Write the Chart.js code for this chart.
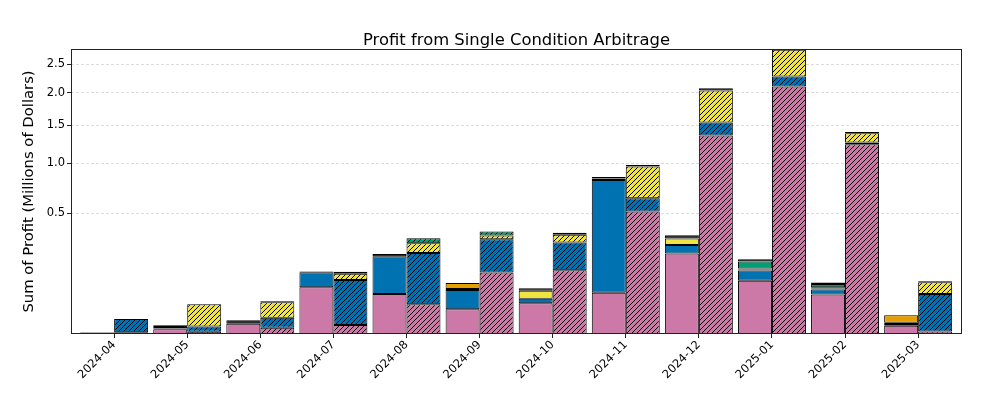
<!DOCTYPE html>
<html>
<head>
<meta charset="utf-8">
<script src="https://cdn.jsdelivr.net/npm/chart.js@4.4.1/dist/chart.umd.min.js"></script>
<style>
  html, body { margin: 0; padding: 0; background: #fff; }
</style>
</head>
<body>
<canvas id="chart" width="986" height="396"></canvas>
<script>
const months = ["2024-04", "2024-05", "2024-06", "2024-07", "2024-08", "2024-09",
  "2024-10", "2024-11", "2024-12", "2025-01", "2025-02", "2025-03"];
const yTicks = [0.5, 1.0, 1.5, 2.0, 2.5];
const yMax = 2.79;

// solid bars (left of each month tick), millions of dollars
const solidPink = [0.00005, 0.00076, 0.0036, 0.075, 0.055, 0.021, 0.0324, 0.0587, 0.222, 0.0977, 0.0537, 0.00237];
const solidBlue = [0, 0.00024, 0, 0.056, 0.1526, 0.0456, 0.0105, 0.757, 0.0505, 0.0403, 0.0144, 0.00107];
const solidYellow = [0, 0.0007, 0, 0, 0, 0.003, 0.0216, 0.014, 0.040, 0.005, 0.0031, 0.001];
const solidOrange = [0, 0, 0, 0, 0, 0.0198, 0, 0, 0, 0.0046, 0.0038, 0.0076];
const solidGreen = [0, 0, 0, 0, 0, 0, 0, 0, 0, 0.0324, 0.011, 0];
const solidBlack = [0.00006, 0.0009, 0.0029, 0.003, 0.0124, 0, 0.0073, 0.018, 0.0225, 0.012, 0.0052, 0];

// hatched bars (right of each month tick)
const hatchPink = [0.0001, 0.00018, 0.00137, 0.0028, 0.0303, 0.130, 0.1396, 0.5146, 1.353, 2.104, 1.238, 0.0002];
const hatchBlue = [0.0076, 0.00176, 0.00777, 0.0972, 0.1954, 0.1785, 0.1474, 0.118, 0.183, 0.173, 0.021, 0.0548];
const hatchYellow = [0, 0.0284, 0.0255, 0.025, 0.0573, 0.024, 0.052, 0.330, 0.500, 0.498, 0.127, 0.0369];
const hatchOrange = [0, 0, 0, 0, 0, 0, 0, 0, 0, 0, 0, 0];
const hatchGreen = [0, 0, 0, 0.0085, 0.032, 0.0275, 0, 0, 0, 0, 0, 0];
const hatchBlack = [0, 0, 0.002, 0, 0, 0, 0.014, 0.0195, 0.040, 0, 0.014, 0.0036];

const colors = {
  pink: "#CC79A7",
  blue: "#0072B2",
  yellow: "#F0E442",
  orange: "#E69F00",
  green: "#009E73",
  black: "#000000"
};

// square-root value axis, like matplotlib's function scale
class SqrtScale extends Chart.LinearScale {
  getPixelForValue(value) {
    if (value === null || value === undefined) return NaN;
    const lo = Math.sqrt(Math.max(this.min, 0));
    const hi = Math.sqrt(this.max);
    return this.getPixelForDecimal((Math.sqrt(Math.max(value, 0)) - lo) / (hi - lo));
  }
  getValueForPixel(pixel) {
    const lo = Math.sqrt(Math.max(this.min, 0));
    const hi = Math.sqrt(this.max);
    const s = lo + this.getDecimalForPixel(pixel) * (hi - lo);
    return s * s;
  }
}
SqrtScale.id = "sqrt";
SqrtScale.defaults = Chart.LinearScale.defaults;
Chart.register(SqrtScale);

function hatch(color) {
  const s = 5;
  const c = document.createElement("canvas");
  c.width = s;
  c.height = s;
  const g = c.getContext("2d");
  g.fillStyle = color;
  g.fillRect(0, 0, s, s);
  g.strokeStyle = "#000";
  g.lineWidth = 1;
  g.beginPath();
  g.moveTo(0, s);
  g.lineTo(s, 0);
  g.moveTo(-1, 1);
  g.lineTo(1, -1);
  g.moveTo(s - 1, s + 1);
  g.lineTo(s + 1, s - 1);
  g.stroke();
  return g.createPattern(c, "repeat");
}

function series(values, label, color, stack, hatched) {
  return {
    label,
    stack,
    data: values.map((v, i) => ({ x: i, y: v || null })),
    backgroundColor: hatched ? hatch(color) : color,
    borderColor: "#000",
    borderWidth: 1,
    borderSkipped: false
  };
}

const datasets = [
  series(solidPink, "pink", colors.pink, "solid", false),
  series(solidBlue, "blue", colors.blue, "solid", false),
  series(solidYellow, "yellow", colors.yellow, "solid", false),
  series(solidOrange, "orange", colors.orange, "solid", false),
  series(solidGreen, "green", colors.green, "solid", false),
  series(solidBlack, "black", colors.black, "solid", false),
  series(hatchPink, "pink", colors.pink, "hatched", true),
  series(hatchBlue, "blue", colors.blue, "hatched", true),
  series(hatchYellow, "yellow", colors.yellow, "hatched", true),
  series(hatchOrange, "orange", colors.orange, "hatched", true),
  series(hatchGreen, "green", colors.green, "hatched", true),
  series(hatchBlack, "black", colors.black, "hatched", true)
];

const frame = {
  id: "frame",
  afterDatasetsDraw(chart) {
    const { ctx, chartArea: a } = chart;
    ctx.save();
    ctx.strokeStyle = "#222";
    ctx.lineWidth = 1;
    ctx.strokeRect(Math.round(a.left) + 0.5, Math.round(a.top) + 0.5,
      Math.round(a.right - a.left) - 1, Math.round(a.bottom - a.top) - 1);
    ctx.restore();
  }
};

Chart.defaults.font.family = "'DejaVu Sans', sans-serif";
Chart.defaults.color = "#000";

new Chart(document.getElementById("chart"), {
  type: "bar",
  data: { datasets },
  plugins: [frame],
  options: {
    responsive: false,
    animation: false,
    layout: { padding: { left: 0, right: 24, top: 0, bottom: 0 } },
    datasets: { bar: { categoryPercentage: 0.93, barPercentage: 1.0 } },
    plugins: {
      legend: { display: false },
      tooltip: { enabled: false },
      title: {
        display: true,
        fullSize: false,
        text: "Profit from Single Condition Arbitrage",
        color: "#000",
        font: { size: 16.4, weight: "normal", lineHeight: 1 },
        padding: { top: 32.6, bottom: 0 }
      }
    },
    scales: {
      x: {
        type: "linear",
        stacked: true,
        offset: false,
        min: -0.59,
        max: 11.6,
        afterBuildTicks: (s) => { s.ticks = months.map((m, i) => ({ value: i })); },
        afterFit: (s) => { s.height = 62; },
        grid: { offset: false, drawOnChartArea: false, drawTicks: true, tickLength: 4, tickColor: "#222" },
        border: { display: false },
        ticks: {
          autoSkip: false,
          minRotation: 45,
          maxRotation: 45,
          padding: 0,
          font: { size: 11.5 },
          callback: (v) => months[v]
        }
      },
      y: {
        type: "sqrt",
        stacked: true,
        min: 0,
        max: yMax,
        afterBuildTicks: (s) => { s.ticks = yTicks.map((v) => ({ value: v })); },
        afterFit: (s) => { s.width = 71; },
        grid: { color: "#dcdcdc", lineWidth: 1, tickColor: "#222", tickLength: 4, tickBorderDash: [] },
        border: { display: false, dash: [3, 2] },
        ticks: {
          padding: 2,
          font: { size: 11.5 },
          callback: (v) => v.toFixed(1)
        },
        title: {
          display: true,
          text: "Sum of Profit (Millions of Dollars)",
          font: { size: 14.8 },
          padding: { top: 20, bottom: 0 }
        }
      }
    }
  }
});
</script>
</body>
</html>
